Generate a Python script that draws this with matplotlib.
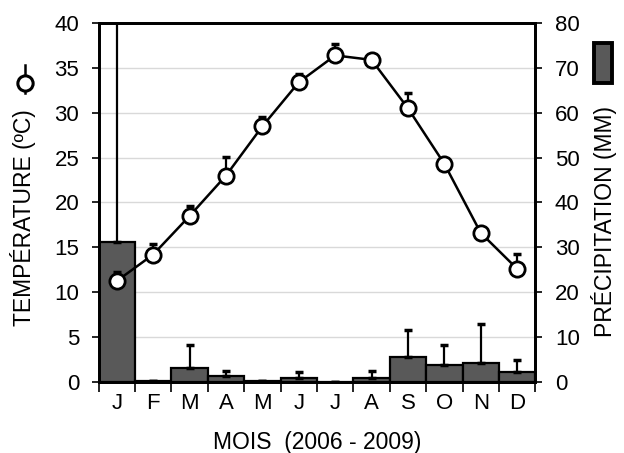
import numpy as np
import matplotlib
matplotlib.use('Agg')
import matplotlib.pyplot as plt
from matplotlib.lines import Line2D
from matplotlib.patches import Rectangle

plt.rcParams['font.family'] = ['Liberation Sans', 'DejaVu Sans']

# Data
months = ['J', 'F', 'M', 'A', 'M', 'J', 'J', 'A', 'S', 'O', 'N', 'D']
temp = [11.25, 14.2, 18.5, 23.0, 28.5, 33.4, 36.4, 35.9, 30.5, 24.3, 16.6, 12.6]
temp_err = [1.0, 1.2, 1.1, 2.1, 1.0, 0.9, 1.3, 0.0, 1.7, 0.0, 0.0, 1.7]
precip = [31.2, 0.1, 3.0, 1.2, 0.1, 0.8, 0.05, 0.8, 5.6, 3.8, 4.3, 2.1]
precip_err = [60.0, 0.0, 5.2, 1.3, 0.0, 1.5, 0.0, 1.7, 6.0, 4.4, 8.6, 2.7]

fs = 16
x = np.arange(len(months))

fig = plt.figure(figsize=(6.24, 4.53), dpi=100)
ax1 = fig.add_axes([0.158, 0.157, 0.700, 0.792])
ax2 = ax1.twinx()

# bars on right axis, drawn behind the temperature line
ax1.set_zorder(ax2.get_zorder() + 1)
ax1.patch.set_visible(False)

ax2.set_axisbelow(True)
ax2.yaxis.grid(True, color='#d9d9d9', linewidth=1)
ax2.bar(x, precip, width=1.0, color='#595959', edgecolor='black', linewidth=1.6,
        yerr=[np.zeros(len(precip)), precip_err], ecolor='black',
        error_kw=dict(elinewidth=1.6, capsize=3, capthick=2.5), zorder=2)
ax2.set_ylim(0, 80)
ax2.set_yticks(range(0, 81, 10))

ax1.errorbar(x, temp, yerr=[np.zeros(len(temp)), temp_err], fmt='none',
             ecolor='black', elinewidth=1.6, capsize=3, capthick=2.5, zorder=3)
ax1.plot(x, temp, color='black', linewidth=1.8, marker='o', markersize=11,
         markerfacecolor='white', markeredgecolor='black', markeredgewidth=2,
         zorder=4)
ax1.set_ylim(0, 40)
ax1.set_yticks(range(0, 41, 5))
ax1.set_xlim(-0.5, 11.5)

# x ticks at month boundaries, labels centred
ax1.set_xticks(np.arange(-0.5, 12, 1))
ax1.set_xticklabels([])
ax1.set_xticks(x, minor=True)
ax1.set_xticklabels(months, minor=True)
ax1.tick_params(axis='x', which='major', length=7, width=1.2, direction='out')
ax1.tick_params(axis='x', which='minor', length=0, pad=8, labelsize=fs)
ax1.tick_params(axis='y', length=5, width=1.2, labelsize=fs, pad=9)
ax2.tick_params(axis='y', length=5, width=1.2, labelsize=fs, pad=9)

for ax in (ax1, ax2):
    for sp in ax.spines.values():
        sp.set_linewidth(2)

ax1.set_xlabel('MOIS  (2006 - 2009)', fontsize=16.5, labelpad=12)

fig.text(0.037, 0.519, 'TEMPÉRATURE (ºC)', rotation=90, fontsize=16.5,
         ha='center', va='center')
fig.add_artist(Line2D([0.040, 0.040], [0.795, 0.857], transform=fig.transFigure,
                      color='black', linewidth=1.8))
fig.add_artist(Line2D([0.040], [0.817], transform=fig.transFigure, marker='o',
                      markersize=11, markerfacecolor='white',
                      markeredgecolor='black', markeredgewidth=2.2))

fig.text(0.968, 0.511, 'PRÉCIPITATION (MM)', rotation=90, fontsize=16.5,
         ha='center', va='center')
fig.add_artist(Rectangle((0.952, 0.817), 0.029, 0.087, transform=fig.transFigure,
                         facecolor='#595959', edgecolor='black', linewidth=2.8))

fig.savefig('out.png', dpi=100)
